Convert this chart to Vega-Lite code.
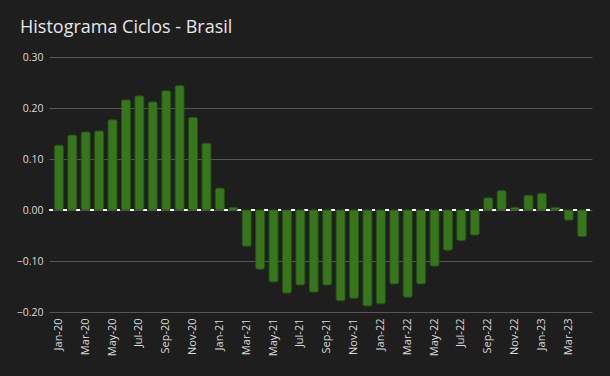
{
  "$schema": "https://vega.github.io/schema/vega-lite/v6.json",
  "autosize": "none",
  "width": 543,
  "height": 255,
  "padding": {"left": 49, "top": 57, "right": 18, "bottom": 64},
  "background": "#1e1e1e",
  "title": {
    "text": "Histograma Ciclos - Brasil",
    "anchor": "start",
    "frame": "group",
    "dx": -29,
    "offset": 15,
    "font": "Open Sans",
    "fontSize": 18,
    "fontWeight": "normal",
    "color": "#e6e6e6"
  },
  "config": {
    "view": {"stroke": null},
    "font": "Open Sans",
    "axisX": {
      "grid": false,
      "ticks": false,
      "domain": false,
      "labelAngle": -90,
      "labelColor": "#d9d9d9",
      "labelFontSize": 11,
      "labelPadding": 6,
      "title": null
    },
    "axisY": {
      "grid": true,
      "gridColor": "#555555",
      "gridWidth": 1,
      "gridOpacity": 1,
      "ticks": false,
      "domain": false,
      "labelColor": "#d9d9d9",
      "labelFontSize": 10.5,
      "labelPadding": 6,
      "title": null
    }
  },
  "data": {
    "values": [
      {"m": "Jan-20", "v": 0.127}, {"m": "Feb-20", "v": 0.147}, {"m": "Mar-20", "v": 0.153}, {"m": "Apr-20", "v": 0.155},
      {"m": "May-20", "v": 0.177}, {"m": "Jun-20", "v": 0.216}, {"m": "Jul-20", "v": 0.224}, {"m": "Aug-20", "v": 0.212},
      {"m": "Sep-20", "v": 0.234}, {"m": "Oct-20", "v": 0.244}, {"m": "Nov-20", "v": 0.182}, {"m": "Dec-20", "v": 0.131},
      {"m": "Jan-21", "v": 0.043}, {"m": "Feb-21", "v": 0.005}, {"m": "Mar-21", "v": -0.071}, {"m": "Apr-21", "v": -0.116},
      {"m": "May-21", "v": -0.141}, {"m": "Jun-21", "v": -0.163}, {"m": "Jul-21", "v": -0.147}, {"m": "Aug-21", "v": -0.161},
      {"m": "Sep-21", "v": -0.147}, {"m": "Oct-21", "v": -0.178}, {"m": "Nov-21", "v": -0.173}, {"m": "Dec-21", "v": -0.188},
      {"m": "Jan-22", "v": -0.184}, {"m": "Feb-22", "v": -0.145}, {"m": "Mar-22", "v": -0.171}, {"m": "Apr-22", "v": -0.145},
      {"m": "May-22", "v": -0.110}, {"m": "Jun-22", "v": -0.079}, {"m": "Jul-22", "v": -0.060}, {"m": "Aug-22", "v": -0.049},
      {"m": "Sep-22", "v": 0.024}, {"m": "Oct-22", "v": 0.038}, {"m": "Nov-22", "v": 0.005}, {"m": "Dec-22", "v": 0.029},
      {"m": "Jan-23", "v": 0.033}, {"m": "Feb-23", "v": 0.005}, {"m": "Mar-23", "v": -0.020}, {"m": "Apr-23", "v": -0.052}
    ]
  },
  "layer": [
    {
      "mark": {"type": "rule", "color": "#ffffff", "strokeWidth": 1.2, "strokeDash": [3, 10.42], "strokeDashOffset": 11.1},
      "encoding": {
        "y": {"datum": 0, "type": "quantitative", "scale": {"domain": [-0.2, 0.3], "nice": false}}
      }
    },
    {
      "mark": {"type": "bar", "color": "#38761d", "stroke": "#2a5a16", "strokeWidth": 0.8, "cornerRadius": 2},
      "encoding": {
        "x": {
          "field": "m",
          "type": "ordinal",
          "sort": null,
          "scale": {"paddingInner": 0.33, "paddingOuter": 0.4},
          "axis": {
            "values": ["Jan-20", "Mar-20", "May-20", "Jul-20", "Sep-20", "Nov-20", "Jan-21", "Mar-21", "May-21", "Jul-21", "Sep-21", "Nov-21", "Jan-22", "Mar-22", "May-22", "Jul-22", "Sep-22", "Nov-22", "Jan-23", "Mar-23"]
          }
        },
        "y": {
          "field": "v",
          "type": "quantitative",
          "scale": {"domain": [-0.2, 0.3], "nice": false},
          "axis": {
            "values": [-0.2, -0.1, 0, 0.1, 0.2, 0.3],
            "format": ".2f"
          }
        }
      }
    }
  ]
}
